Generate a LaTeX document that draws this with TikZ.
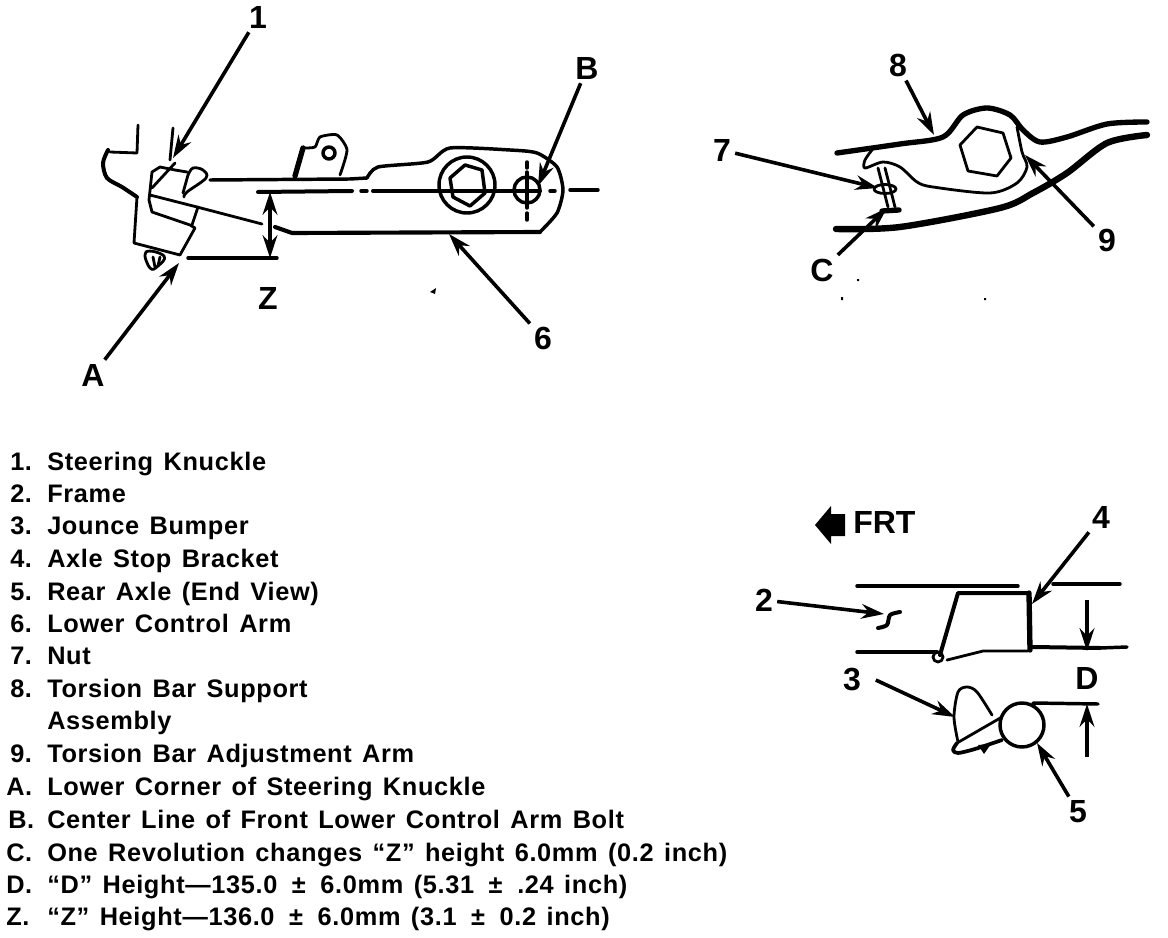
\documentclass[tikz,border=0pt]{standalone}
\usepackage{fontspec}
\setmainfont{Liberation Sans}
\newfontfamily\listfont{Liberation Sans}[LetterSpace=2.6,WordSpace=1.35]
\usetikzlibrary{arrows.meta}
\tikzset{
  thin line/.style={line width=2.1pt,line cap=round,line join=round},
  mid line/.style={line width=2.6pt,line cap=round,line join=round},
  heavy line/.style={line width=4pt,line cap=round,line join=round},
  leader/.style={line width=2.7pt,-{Stealth[length=17pt,width=11pt]}},
  dim arrow/.style={line width=2.8pt,-{Stealth[length=17pt,width=11pt]}},
  callout/.style={font=\fontsize{24}{26}\selectfont\bfseries,inner sep=3pt},
  listnum/.style={font=\listfont\fontsize{19}{22}\selectfont\bfseries,anchor=base west,inner sep=0pt},
  speck/.style={fill=black,draw=none}
}
\begin{document}
\begin{tikzpicture}[x=0.75pt,y=-0.75pt]
\useasboundingbox (0,0) rectangle (1168,938);
% ---------- left view: knuckle
\draw[thin line] (138,125) -- (137,153) -- (110,152);
\draw[heavy line,line width=3pt] plot[smooth,tension=0.5] coordinates {(108,150) (103,163) (107,178) (122,187) (137,197)};
\draw[thin line] (137,197) -- (134,243) -- (180,255) -- (195,228) -- (190,225) -- (152,212) -- (149,200) -- (152,172) -- (160,167) -- (175,170) -- (187,172);
\draw[thin line] plot[smooth,tension=0.6] coordinates {(188,175) (193,168) (203,170) (206,178) (187,192) (184,197)};
\draw[thin line] (188,175) -- (183,193);
\draw[thin line] (150,195) -- (197,207) -- (262,224);
\draw[thin line] (198,207) -- (192,225);
\draw[thin line] (152,188) -- (175,163);
\draw[thin line] (173,128) -- (170,160);
\draw[thin line] plot[smooth cycle,tension=0.8] coordinates {(146,252) (164,256) (158,266) (150,268)};
\draw[thin line] (153,257) -- (155,267) (160,257) -- (158,266);
% ---------- arm
\draw[mid line] (210,180) -- (350,179) -- (367,178);
\draw[mid line] plot[smooth,tension=0.4] coordinates {(367,178) (378,167) (428,162) (450,148) (510,150) (537,153) (557,167) (563,190) (557,213) (540,232)};
\draw[heavy line,line width=3.1pt] (540,232) -- (292,233) -- (275,227);
\draw[heavy line,line width=3pt] (258,192) -- (352,191);
\draw[mid line] (361,191) -- (367,191);
\draw[heavy line,line width=3pt] (373,191) -- (540,191);
\draw[mid line] (550,191) -- (555,191) (570,190) -- (598,190);
\draw[mid line] (467,185) circle[radius=28];
\draw[mid line] (450,178) -- (465,165) -- (482,170) -- (485,193) -- (470,206) -- (453,197) -- cycle;
\draw[mid line] (527,190) circle[radius=13];
\draw[mid line] (527,162) -- (527,168) (527,172) -- (527,208) (527,213) -- (527,220);
% tab
\draw[thin line] plot[smooth,tension=0.4] coordinates {(303,148) (315,147) (320,137) (337,135) (347,150) (340,175)};
\draw[heavy line] (303,148) -- (295,176);
\draw[mid line] (329,153) circle[radius=6];
% Z dimension
\draw[mid line] (188,258) -- (277,258);
\coordinate (ztop) at (270,192);
\coordinate (zbot) at (270,258);
\coordinate (zmid) at (270,225);
\draw[dim arrow] (zmid) -- (ztop);
\draw[dim arrow] (zmid) -- (zbot);
% ---------- left labels
\node[callout] (n1) at (258,17) {1};
\node[callout] (nA) at (93,375) {A};
\node[callout] (nB) at (587,68) {B};
\node[callout] (n6) at (543,338) {6};
\node[callout] (nZ) at (268,298) {Z};
\coordinate (t1) at (173,158);
\coordinate (tA) at (179,263);
\coordinate (tB) at (538,186);
\coordinate (t6) at (449,234);
\draw[leader] (n1) -- (t1);
\draw[leader] (nA) -- (tA);
\draw[leader] (nB) -- (tB);
\draw[leader] (n6) -- (t6);
\fill[speck] (430,292) -- (436,288) -- (435,294) -- cycle;
% ---------- right top view
\draw[heavy line] plot[smooth,tension=0.5] coordinates {(837,153) (900,144) (943,137) (963,115) (987,108) (1010,115) (1023,130) (1040,142) (1067,137) (1107,124) (1147,122)};
\draw[heavy line,line width=4.8pt] plot[smooth,tension=0.5] coordinates {(836,229) (900,227) (1000,208) (1033,193) (1067,173) (1107,143) (1147,135)};
\draw[thin line] plot[smooth,tension=0.5] coordinates {(1017,127) (1022,152) (1027,167) (1017,183) (990,193) (933,187) (917,182) (900,167) (883,162) (865,168) (865,160) (872,150)};
\draw[thin line] (960,145) -- (977,127) -- (1003,133) -- (1011,158) -- (997,176) -- (968,171) -- cycle;
\draw[thin line] (878,168) -- (888,207) (885,168) -- (895,207);
\draw[thin line] (885,189) ellipse[x radius=11,y radius=4.5];
\draw[heavy line] (882,211) -- (899,210);
\node[callout] (n8) at (898,65) {8};
\node[callout] (n7) at (722,150) {7};
\node[callout] (nC) at (822,270) {C};
\node[callout] (n9) at (1107,240) {9};
\coordinate (t8) at (934,135);
\coordinate (t7) at (878,188);
\coordinate (tC) at (887,208);
\coordinate (t9) at (1025,155);
\draw[leader] (n8) -- (t8);
\draw[leader] (n7) -- (t7);
\draw[leader] (nC) -- (tC);
\draw[leader] (n9) -- (t9);
\fill[speck] (857,279) rectangle (859,281) (841,297) rectangle (843,300) (984,298) rectangle (986,300);
% ---------- right bottom view
\draw[mid line] (857,586) -- (1018,586);
\draw[mid line] (1053,584) -- (1120,584);
\draw[mid line] (857,652) -- (937,652);
\draw[thin line,line width=3pt] (940,655) -- (958,593) -- (1028,593);
\draw[heavy line] (1029,593) -- (1030,650);
\draw[thin line] (947,660) -- (983,651) -- (1028,651);
\draw[thin line] (938,657) circle[radius=5];
\draw[heavy line,line width=3pt] (1033,647) -- (1100,648);
\draw[mid line] (1100,648) -- (1127,647);
\coordinate (dtop) at (1087,600);
\coordinate (dlow) at (1087,651);
\coordinate (etop) at (1087,757);
\coordinate (elow) at (1087,704);
\draw[dim arrow] (dtop) -- (dlow);
\draw[dim arrow] (etop) -- (elow);
\draw[mid line] (1033,703) -- (1098,704);
\draw[mid line] (1022,725) circle[radius=22];
\draw[thin line] plot[smooth,tension=0.5] coordinates {(958,742) (954,717) (958,692) (967,687) (977,692) (992,715)};
\draw[thin line] (957,743) -- (1002,717);
\draw[thin line,line width=2.8pt] plot[smooth,tension=0.5] coordinates {(1002,740) (975,749) (958,753) (953,750) (957,743)};
\fill (978,745) -- (991,744) -- (984,754) -- cycle;
\draw[thin line,line width=3pt] plot[smooth,tension=0.5] coordinates {(900,612) (890,615) (887,625) (878,628)};
\node[callout] (n2) at (764,600) {2};
\node[callout] (n3) at (852,680) {3};
\node[callout] (n4) at (1101,517) {4};
\node[callout] (n5) at (1078,812) {5};
\node[callout] (nD) at (1087,678) {D};
\coordinate (t2) at (884,614);
\coordinate (t3) at (955,717);
\coordinate (t4) at (1032,604);
\coordinate (t5) at (1037,743);
\draw[leader] (n2) -- (t2);
\draw[leader] ([xshift=8pt]n3.east) -- (t3);
\draw[leader] (n4) -- (t4);
\draw[leader] (n5) -- (t5);
% FRT
\node[callout,anchor=west,inner sep=0pt] (frt) at (853,522) {FRT};
\fill (815,525) -- (831,506) -- (831,514) -- (845,514) -- (845,536) -- (831,536) -- (831,544) -- cycle;
% ---------- list
\node[listnum] (a1) at (10,470) {1.};   \node[listnum] (b1) at (47,470) {Steering Knuckle};
\node[listnum] (a2) at (10,502) {2.};   \node[listnum] (b2) at (47,502) {Frame};
\node[listnum] (a3) at (10,534) {3.};   \node[listnum] (b3) at (47,534) {Jounce Bumper};
\node[listnum] (a4) at (10,567) {4.};   \node[listnum] (b4) at (47,567) {Axle Stop Bracket};
\node[listnum] (a5) at (10,600) {5.};   \node[listnum] (b5) at (47,600) {Rear Axle (End View)};
\node[listnum] (a6) at (10,632) {6.};   \node[listnum] (b6) at (47,632) {Lower Control Arm};
\node[listnum] (a7) at (10,664) {7.};   \node[listnum] (b7) at (47,664) {Nut};
\node[listnum] (a8) at (10,697) {8.};   \node[listnum] (b8) at (47,697) {Torsion Bar Support};
\node[listnum] (b8b) at (47,729) {Assembly};
\node[listnum] (a9) at (10,762) {9.};   \node[listnum] (b9) at (47,762) {Torsion Bar Adjustment Arm};
\node[listnum] (aA) at (6,795) {A.};    \node[listnum] (bA) at (47,795) {Lower Corner of Steering Knuckle};
\node[listnum] (aB) at (8,828) {B.};    \node[listnum] (bB) at (47,828) {Center Line of Front Lower Control Arm Bolt};
\node[listnum] (aC) at (6,861) {C.};    \node[listnum] (bC) at (47,861) {One Revolution changes “Z” height 6.0mm (0.2 inch)};
\node[listnum] (aD) at (6,893) {D.};    \node[listnum] (bD) at (47,893) {“D” Height—135.0 \,±\, 6.0mm (5.31 \,±\, .24 inch)};
\node[listnum] (aZ) at (6,925) {Z.};    \node[listnum] (bZ) at (47,925) {“Z” Height—136.0 \,±\, 6.0mm (3.1 \,±\, 0.2 inch)};
\end{tikzpicture}
\end{document}
